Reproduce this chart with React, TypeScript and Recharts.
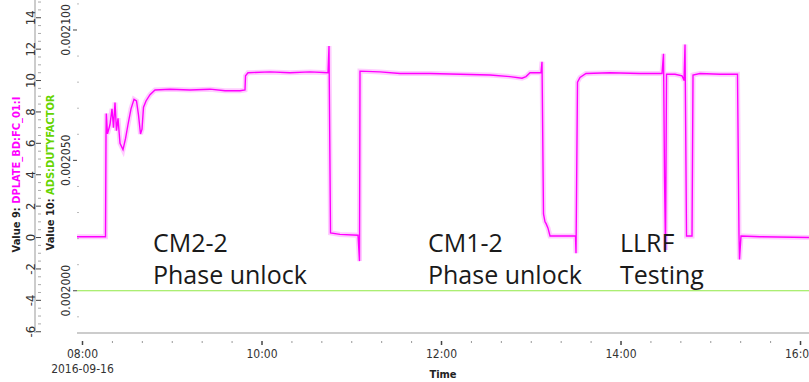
import {
  LineChart,
  Line,
  XAxis,
  YAxis,
  Label,
} from "recharts";

// minutes after 08:00 on 2016-09-16
const dplateTimes = [
  -3.68, 15.38, 15.71, 15.91, 16.71, 18.38, 19.72, 20.72, 21.73, 22.73, 23.73,
  25.07, 27.07, 28.75, 30.42, 32.42, 34.43, 36.1, 37.44, 38.77, 39.78, 40.78,
  42.45, 45.12, 48.47, 58.49, 71.86, 85.23, 95.26, 105.29, 108.63, 108.97,
  110.64, 125.34, 138.71, 152.08, 164.12, 164.79, 165.79, 172.14, 184.18,
  185.17, 185.51, 198.88, 212.25, 232.31, 252.36, 272.42, 285.79, 293.81,
  296.48, 299.16, 306.51, 307.18, 308.18, 309.18, 309.85, 311.19, 312.53,
  329.57, 329.91, 330.91, 332.58, 336.59, 352.64, 372.7, 387.41, 388.41,
  389.08, 389.75, 390.42, 396.1, 400.78, 402.12, 402.79, 403.79, 407.47,
  408.13, 412.81, 426.18, 437.87, 438.87, 439.21, 440.21, 452.91, 485.67,
];
const dplateValues = [
  0.05, 0.05, 6.5, 7.9, 6.6, 7.2, 8.2, 7.0, 8.6, 6.8, 7.6,
  6.0, 5.6, 6.3, 7.2, 8.2, 8.8, 8.7, 7.8, 6.6, 6.9, 8.3,
  8.7, 9.1, 9.4, 9.45, 9.4, 9.45, 9.35, 9.35, 9.4, 10.3,
  10.5, 10.55, 10.5, 10.55, 10.5, 12.2, 0.3, 0.2, 0.15,
  -1.5, 10.6, 10.55, 10.45, 10.45, 10.4, 10.35, 10.25, 10.15,
  10.25, 10.5, 10.5, 11.2, 1.5, 1.0, 0.9, 0.6, 0.1,
  0.1, -1.0, 9.9, 10.2, 10.45, 10.5, 10.45, 10.45, 11.7,
  3.8, -0.8, 10.4, 10.4, 10.3, 10.0, 12.3, 0.1, 0.1,
  10.35, 10.45, 10.4, 10.4, 0.2, -1.4, 0.1, 0.05, 0.0,
];

const dutyTimes = [-3.68, 485.67];
const dutyValues = [0.002, 0.002];

const timeTicks = [0, 20, 40, 60, 80, 100, 120, 140, 160, 180, 200, 220, 240, 260, 280, 300, 320, 340, 360, 380, 400, 420, 440, 460, 480];
const timeLabels: Record<number, string> = { 0: "08:00", 120: "10:00", 240: "12:00", 360: "14:00", 480: "16:00" };
const dateLabel = "2016-09-16";

const dplateMajor = [-6, -4, -2, 0, 2, 4, 6, 8, 10, 12, 14];
const dplateTicks: number[] = [];
for (let v = -6; v <= 15; v += 0.5) dplateTicks.push(v);

const dutyTicks = [0.00199, 0.002, 0.00201, 0.00202, 0.00203, 0.00204, 0.00205, 0.00206, 0.00207, 0.00208, 0.00209, 0.0021, 0.00211];
const dutyLabels: Record<string, string> = { "0.002": "0.002000", "0.00205": "0.002050", "0.0021": "0.002100" };

const rows = [
  ...dplateTimes.map((t, i) => ({ t, dplate: dplateValues[i] })),
  ...dutyTimes.map((t, i) => ({ t, duty: dutyValues[i] })),
].sort((a, b) => a.t - b.t);

const FONT = '"DejaVu Sans Condensed", "Liberation Sans Narrow", sans-serif';
const MAGENTA = "#ff00ff";
const GREEN = "#66d400";

function TimeTick(props: any) {
  const { x, y, payload } = props;
  const label = timeLabels[payload.value];
  return (
    <g>
      <line x1={x} x2={x} y1={y} y2={y + (label ? 4 : 2)} stroke={label ? "#444" : "#999"} strokeWidth={label ? 1.5 : 1} />
      {label && (
        <text x={x} y={y + 17} textAnchor="middle" fontSize={12} fontFamily={FONT} fill="#333">
          {label}
        </text>
      )}
      {payload.value === 0 && (
        <text x={x} y={y + 32} textAnchor="middle" fontSize={12} fontFamily={FONT} fill="#333">
          {dateLabel}
        </text>
      )}
    </g>
  );
}

function DplateTick(props: any) {
  const { y, payload } = props;
  const major = dplateMajor.includes(payload.value);
  return (
    <g>
      <line x1={major ? 36 : 38} x2={41} y1={y} y2={y} stroke={major ? "#444" : "#aaa"} strokeWidth={1} />
      {major && (
        <text
          x={31}
          y={y}
          transform={`rotate(-90, 31, ${y})`}
          textAnchor="middle"
          dominantBaseline="central"
          fontSize={13}
          fontFamily={FONT}
          fill="#333"
        >
          {payload.value}
        </text>
      )}
    </g>
  );
}

function DutyTick(props: any) {
  const { y, payload } = props;
  const label = dutyLabels[String(payload.value)];
  return (
    <g>
      <line x1={label ? 73 : 77} x2={label ? 77 : 79} y1={y} y2={y} stroke={label ? "#444" : "#bbb"} strokeWidth={1} />
      {label && (
        <text
          x={66}
          y={y}
          transform={`rotate(-90, 66, ${y})`}
          textAnchor="middle"
          dominantBaseline="central"
          fontSize={12}
          fontFamily={FONT}
          fill="#333"
        >
          {label}
        </text>
      )}
    </g>
  );
}

function AxisTitle({ x, cy, head, tail, color }: { x: number; cy: number; head: string; tail: string; color: string }) {
  return (
    <text
      x={x}
      y={cy}
      transform={`rotate(-90, ${x}, ${cy})`}
      textAnchor="middle"
      dominantBaseline="central"
      fontSize={11}
      fontWeight="bold"
      fontFamily={FONT}
    >
      <tspan fill="#222">{head}</tspan>
      <tspan fill={color}>{tail}</tspan>
    </text>
  );
}

const notes = [
  { x: 153, lines: ["CM2-2", "Phase unlock"] },
  { x: 428, lines: ["CM1-2", "Phase unlock"] },
  { x: 620, lines: ["LLRF", "Testing"] },
];

export default function App() {
  return (
    <div style={{ position: "absolute", left: 0, top: 0, width: 809, height: 382, background: "#fff", overflow: "hidden" }}>
      <LineChart width={809} height={382} data={rows} margin={{ top: 0, right: 0, bottom: 0, left: 0 }}>
        <XAxis
          dataKey="t"
          type="number"
          domain={[-3.68, 485.67]}
          allowDataOverflow
          ticks={timeTicks}
          interval={0}
          tick={<TimeTick />}
          tickLine={false}
          axisLine={{ stroke: "#999" }}
          height={49}
        >
          <Label
            content={(p: any) => (
              <text x={p.viewBox.x + p.viewBox.width / 2} y={378} textAnchor="middle" fontSize={11} fontWeight="bold" fontFamily={FONT} fill="#222">
                Time
              </text>
            )}
          />
        </XAxis>
        <YAxis
          yAxisId="duty"
          type="number"
          domain={[0.0019838, 0.0021115]}
          allowDataOverflow
          ticks={dutyTicks}
          interval={0}
          tick={<DutyTick />}
          tickLine={false}
          axisLine={{ stroke: "#999" }}
          width={35}
        >
          <Label content={(p: any) => <AxisTitle x={50} cy={p.viewBox.y + p.viewBox.height / 2 + 6} head="Value 10: " tail="ADS:DUTYFACTOR" color={GREEN} />} />
        </YAxis>
        <YAxis
          yAxisId="dplate"
          type="number"
          domain={[-6.08, 15.13]}
          allowDataOverflow
          ticks={dplateTicks}
          interval={0}
          tick={<DplateTick />}
          tickLine={false}
          axisLine={false}
          width={42}
        >
          <Label content={(p: any) => <AxisTitle x={16} cy={p.viewBox.y + p.viewBox.height / 2 + 8} head="Value 9: " tail="DPLATE_BD:FC_01:I" color={MAGENTA} />} />
        </YAxis>
        <Line yAxisId="duty" dataKey="duty" stroke="#8fe845" strokeWidth={1.2} dot={false} connectNulls isAnimationActive={false} />
        <Line yAxisId="dplate" dataKey="dplate" stroke="#ff70ff" strokeOpacity={0.35} strokeWidth={5} dot={false} connectNulls isAnimationActive={false} />
        <Line yAxisId="dplate" dataKey="dplate" stroke={MAGENTA} strokeWidth={1.4} dot={false} connectNulls isAnimationActive={false} />
      </LineChart>
      <svg width={809} height={382} style={{ position: "absolute", left: 0, top: 0, pointerEvents: "none" }}>
        {notes.map((n) => (
          <text key={n.x} fontSize={25} fontFamily='"Open Sans", "Noto Sans", sans-serif' fill="#1a1a1a">
            <tspan x={n.x} y={252}>{n.lines[0]}</tspan>
            <tspan x={n.x} y={284}>{n.lines[1]}</tspan>
          </text>
        ))}
      </svg>
    </div>
  );
}
